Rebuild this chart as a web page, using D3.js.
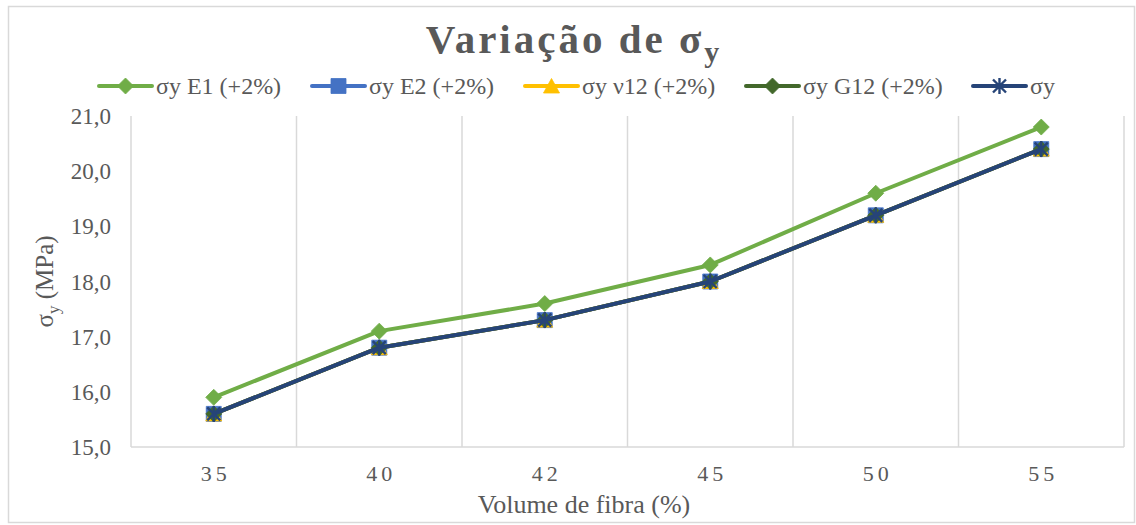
<!DOCTYPE html>
<html>
<head>
<meta charset="utf-8">
<script src="https://cdn.jsdelivr.net/npm/d3@7"></script>
<style>
  html, body { margin: 0; padding: 0; background: #fff; }
  svg { display: block; }
</style>
</head>
<body>
<svg id="chart" width="1136" height="525"></svg>
<script>
// Fibre volume fractions (%) on the x axis
const categories = ["35", "40", "42", "45", "50", "55"];

// Yield stress σy (MPa) for each +2% property perturbation
const sigmaE1   = [15.9, 17.1, 17.6, 18.3, 19.6, 20.8];
const sigmaE2   = [15.6, 16.8, 17.3, 18.0, 19.2, 20.4];
const sigmaNu12 = [15.6, 16.8, 17.3, 18.0, 19.2, 20.4];
const sigmaG12  = [15.6, 16.8, 17.3, 18.0, 19.2, 20.4];
const sigmaRef  = [15.6, 16.8, 17.3, 18.0, 19.2, 20.4];

const yTicks = [15, 16, 17, 18, 19, 20, 21];

const seriesNames = ["σy E1 (+2%)", "σy E2 (+2%)", "σy ν12 (+2%)", "σy G12 (+2%)", "σy"];

const FONT = "Liberation Serif, Times New Roman, serif";
const TEXT = "#595959";
const GRID = "#d9d9d9";

const series = [
  { name: seriesNames[0], values: sigmaE1,   color: "#70AD47", marker: "diamond" },
  { name: seriesNames[1], values: sigmaE2,   color: "#4472C4", marker: "square" },
  { name: seriesNames[2], values: sigmaNu12, color: "#FFC000", marker: "triangle" },
  { name: seriesNames[3], values: sigmaG12,  color: "#43682B", marker: "diamond" },
  { name: seriesNames[4], values: sigmaRef,  color: "#264478", marker: "star" }
];

const svg = d3.select("#chart");

// Chart frame
svg.append("rect")
  .attr("x", 8.5).attr("y", 6.5)
  .attr("width", 1126).attr("height", 516)
  .attr("fill", "#fff").attr("stroke", GRID).attr("stroke-width", 1.5);

const plot = { left: 131, right: 1124, top: 116, bottom: 447 };

const x = d3.scaleBand().domain(categories).range([plot.left, plot.right]).padding(0);
const y = d3.scaleLinear().domain([15, 21]).range([plot.bottom, plot.top]);
const cx = c => x(c) + x.bandwidth() / 2;

// Vertical gridlines at category boundaries
const bounds = categories.slice(1).map(c => x(c)).concat([x.range()[1]]);
svg.append("g").selectAll("line").data(bounds).join("line")
  .attr("x1", d => d).attr("x2", d => d)
  .attr("y1", plot.top).attr("y2", plot.bottom)
  .attr("stroke", GRID).attr("stroke-width", 1.5);

// Axis lines
svg.append("line")
  .attr("x1", plot.left).attr("x2", plot.left)
  .attr("y1", plot.top).attr("y2", plot.bottom)
  .attr("stroke", GRID).attr("stroke-width", 1.5);
svg.append("line")
  .attr("x1", plot.left).attr("x2", plot.right)
  .attr("y1", plot.bottom).attr("y2", plot.bottom)
  .attr("stroke", GRID).attr("stroke-width", 1.5);

// Y axis tick labels
const yAxis = d3.axisLeft(y).tickValues(yTicks)
  .tickFormat(d => d3.format(".1f")(d).replace(".", ","))
  .tickSize(0).tickPadding(0);
const gy = svg.append("g").attr("transform", `translate(${plot.left - 20},0)`).call(yAxis)
  .attr("font-family", FONT);
gy.select(".domain").remove();
gy.selectAll("text")
  .attr("font-family", FONT).attr("font-size", 23).attr("fill", TEXT).attr("dy", "0.33em");

// X axis tick labels
const xAxis = d3.axisBottom(x).tickSize(0).tickPadding(0);
const gx = svg.append("g").attr("transform", `translate(0,${plot.bottom + 27})`).call(xAxis)
  .attr("font-family", FONT);
gx.select(".domain").remove();
gx.selectAll("text")
  .attr("font-family", FONT).attr("font-size", 22).attr("fill", TEXT)
  .attr("letter-spacing", "4px").attr("dx", "2px").attr("dy", "0.33em");

// Markers
const markerPath = {
  diamond: "M0,-8L8,0L0,8L-8,0Z",
  square: "M-7.5,-7.5H7.5V7.5H-7.5Z",
  triangle: "M0,-7.5L8,7H-8Z",
  star: "M-6.5,-6.5L6.5,6.5M-6.5,6.5L6.5,-6.5M0,-8V8"
};

function drawMarker(g, kind, color) {
  if (kind === "star") {
    g.append("path").attr("d", markerPath.star)
      .attr("fill", "none").attr("stroke", color).attr("stroke-width", 2.4);
  } else {
    g.append("path").attr("d", markerPath[kind])
      .attr("fill", color).attr("stroke", color).attr("stroke-width", 0.8);
  }
}

const line = d3.line()
  .x((d, i) => cx(categories[i]))
  .y(d => y(d));

series.forEach(s => {
  const g = svg.append("g");
  g.append("path").datum(s.values)
    .attr("d", line)
    .attr("fill", "none").attr("stroke", s.color)
    .attr("stroke-width", 4).attr("stroke-linejoin", "round").attr("stroke-linecap", "round");
  s.values.forEach((v, i) => {
    const m = g.append("g").attr("transform", `translate(${cx(categories[i])},${y(v)})`);
    drawMarker(m, s.marker, s.color);
  });
});

// Title
const title = svg.append("text")
  .attr("x", 574).attr("y", 53)
  .attr("text-anchor", "middle")
  .attr("font-family", FONT)
  .attr("font-size", 41).attr("font-weight", "bold")
  .attr("letter-spacing", "3px")
  .attr("fill", TEXT);
title.append("tspan").text("Variação de σ");
title.append("tspan").attr("font-size", 30).attr("dy", 9).text("y");

// Legend
const legendX = [97, 310, 523, 744, 971];
const legend = svg.append("g");
series.forEach((s, i) => {
  const lg = legend.append("g").attr("transform", `translate(${legendX[i]},86)`);
  lg.append("line").attr("x1", 2).attr("x2", 55).attr("y1", 0).attr("y2", 0)
    .attr("stroke", s.color).attr("stroke-width", 4).attr("stroke-linecap", "round");
  drawMarker(lg.append("g").attr("transform", "translate(28.5,0)"), s.marker, s.color);
  lg.append("text").attr("x", 59).attr("y", 0).attr("dy", "0.33em")
    .attr("font-family", FONT).attr("font-size", 24).attr("fill", TEXT).text(s.name);
});

// Axis titles
const yTitle = svg.append("text")
  .attr("transform", `translate(53,${(plot.top + plot.bottom) / 2}) rotate(-90)`)
  .attr("text-anchor", "middle")
  .attr("font-family", FONT).attr("font-size", 25).attr("fill", TEXT);
yTitle.append("tspan").text("σ");
yTitle.append("tspan").attr("font-size", 17).attr("dy", 6).text("y");
yTitle.append("tspan").attr("dy", -6).text(" (MPa)");

svg.append("text")
  .attr("x", 584).attr("y", 513)
  .attr("text-anchor", "middle")
  .attr("font-family", FONT).attr("font-size", 26).attr("fill", TEXT)
  .text("Volume de fibra (%)");
</script>
</body>
</html>
